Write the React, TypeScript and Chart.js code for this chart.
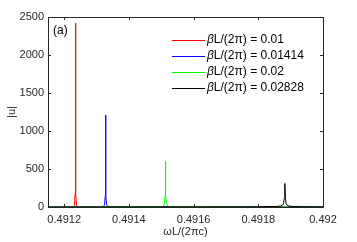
import React, { useEffect, useRef } from "react";
import { Chart, registerables } from "chart.js";
Chart.register(...registerables);

const xTicks = [0.4912, 0.4914, 0.4916, 0.4918, 0.492];
const yTicks = [0, 500, 1000, 1500, 2000, 2500];
const seriesValues = ["0.01", "0.01414", "0.02", "0.02828"];
const seriesColors = ["#ff0000", "#0000ff", "#00ff00", "#000000"];

const redX = [0.49115, 0.4912, 0.491225, 0.491229, 0.491232, 0.491234, 0.491235, 0.491236, 0.491238, 0.491241, 0.491245, 0.4913, 0.4916, 0.492];
const redY = [0, 1, 3, 8, 25, 180, 2420, 180, 25, 8, 3, 1, 0, 0];
const blueX = [0.49115, 0.4913, 0.49132, 0.491323, 0.491325, 0.491327, 0.491328, 0.491329, 0.491331, 0.491333, 0.491336, 0.49135, 0.4916, 0.492];
const blueY = [0, 2, 6, 15, 35, 150, 1210, 150, 35, 15, 6, 2, 1, 0];
const greenX = [0.49115, 0.4915, 0.491504, 0.491507, 0.49151, 0.491512, 0.491513, 0.491514, 0.491516, 0.491519, 0.491522, 0.49153, 0.492];
const greenY = [0, 3, 8, 18, 45, 150, 605, 150, 45, 18, 8, 3, 0];
const blackX = [0.49115, 0.4918, 0.49186, 0.49187, 0.491875, 0.491878, 0.49188, 0.491882, 0.491884, 0.491886, 0.491889, 0.491894, 0.491904, 0.49193, 0.492];
const blackY = [0, 3, 8, 14, 25, 45, 110, 310, 110, 45, 25, 14, 8, 4, 2];

const FONT = '"Liberation Sans", Arial, sans-serif';
const AXIS_COLOR = "#262626";

const toPts = (xs: number[], ys: number[]) => xs.map((x, i) => ({ x, y: ys[i] }));

const overlay = {
  id: "overlay",
  afterDraw(chart: any) {
    const ctx = chart.ctx;
    const { left, right, top, bottom } = chart.chartArea;
    const xs = chart.scales.x;
    const ys = chart.scales.y;
    ctx.save();
    ctx.strokeStyle = AXIS_COLOR;
    ctx.lineWidth = 1;
    ctx.beginPath();
    ctx.rect(Math.round(left) + 0.5, Math.round(top) + 0.5, Math.round(right - left), Math.round(bottom - top));
    ctx.stroke();
    const tl = 3;
    ctx.beginPath();
    xTicks.forEach((v) => {
      const px = Math.round(xs.getPixelForValue(v)) + 0.5;
      ctx.moveTo(px, bottom);
      ctx.lineTo(px, bottom - tl);
      ctx.moveTo(px, top);
      ctx.lineTo(px, top + tl);
    });
    yTicks.forEach((v) => {
      const py = Math.round(ys.getPixelForValue(v)) + 0.5;
      ctx.moveTo(left, py);
      ctx.lineTo(left + tl, py);
      ctx.moveTo(right, py);
      ctx.lineTo(right - tl, py);
    });
    ctx.stroke();

    // panel label
    ctx.fillStyle = "#000";
    ctx.font = `12px ${FONT}`;
    ctx.textBaseline = "middle";
    ctx.textAlign = "left";
    ctx.fillText("(a)", left + 5, top + 14);

    // legend
    const lx0 = 172, lx1 = 205, tx = 207;
    const rowY = [40, 56, 72, 88];
    seriesValues.forEach((val, i) => {
      const y = rowY[i];
      ctx.strokeStyle = seriesColors[i];
      ctx.lineWidth = 1;
      ctx.beginPath();
      ctx.moveTo(lx0, y + 0.5);
      ctx.lineTo(lx1, y + 0.5);
      ctx.stroke();
      ctx.fillStyle = "#000";
      let x = tx;
      ctx.font = `italic 12px ${FONT}`;
      ctx.fillText("β", x, y);
      x += ctx.measureText("β").width;
      ctx.font = `12px ${FONT}`;
      ctx.fillText("L/(2π) = " + val, x, y);
    });

    // axis titles
    ctx.fillStyle = AXIS_COLOR;
    ctx.font = `11px ${FONT}`;
    ctx.textAlign = "center";
    ctx.fillText("ωL/(2πc)", (left + right) / 2, 232);
    ctx.save();
    ctx.translate(12, (top + bottom) / 2);
    ctx.rotate(-Math.PI / 2);
    ctx.fillText("|u|", 0, 0);
    ctx.restore();
    ctx.restore();
  },
};

export default function App() {
  const ref = useRef<HTMLCanvasElement | null>(null);
  useEffect(() => {
    document.body.style.margin = "0";
    const canvas = ref.current!;
    const datasets = [
      { label: "0.01", data: toPts(redX, redY), borderColor: seriesColors[0], order: 3 },
      { label: "0.01414", data: toPts(blueX, blueY), borderColor: seriesColors[1], order: 2 },
      { label: "0.02", data: toPts(greenX, greenY), borderColor: seriesColors[2], order: 1 },
      { label: "0.02828", data: toPts(blackX, blackY), borderColor: seriesColors[3], order: 0 },
    ].map((d) => ({ ...d, borderWidth: 1, pointRadius: 0, tension: 0, fill: false }));
    const chart = new Chart(canvas, {
      type: "line",
      data: { datasets },
      plugins: [overlay],
      options: {
        responsive: false,
        animation: false,
        layout: { padding: { left: 0, top: 17, right: 34, bottom: 0 } },
        plugins: { legend: { display: false }, tooltip: { enabled: false } },
        scales: {
          x: {
            type: "linear",
            min: 0.49115,
            max: 0.492,
            afterBuildTicks: (s: any) => { s.ticks = xTicks.map((v) => ({ value: v })); },
            afterFit: (s: any) => { s.height = 35; },
            grid: { display: false, drawTicks: false },
            border: { display: false },
            ticks: {
              padding: 6,
              color: AXIS_COLOR,
              font: { family: FONT, size: 11 },
              maxRotation: 0,
              autoSkip: false,
              callback: (v: any) => String(+Number(v).toFixed(4)),
            },
          },
          y: {
            type: "linear",
            min: 0,
            max: 2500,
            afterBuildTicks: (s: any) => { s.ticks = yTicks.map((v) => ({ value: v })); },
            afterFit: (s: any) => { s.width = 48; },
            grid: { display: false, drawTicks: false },
            border: { display: false },
            ticks: {
              padding: 4,
              color: AXIS_COLOR,
              font: { family: FONT, size: 11 },
              autoSkip: false,
              callback: (v: any) => String(v),
            },
          },
        },
      },
    } as any);
    return () => chart.destroy();
  }, []);
  return <canvas ref={ref} width={357} height={242} style={{ display: "block" }} />;
}
